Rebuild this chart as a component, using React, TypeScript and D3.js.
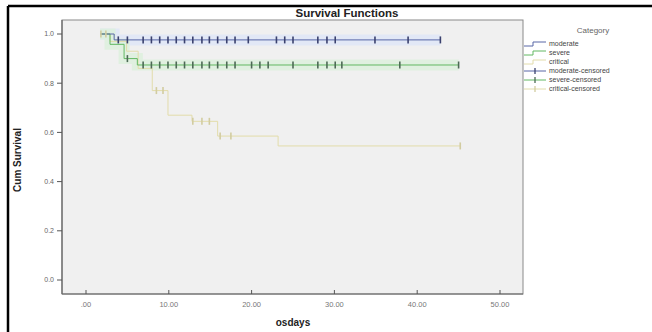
import * as d3 from 'd3';

// step points (time, cumulative survival) and censored times per category
const moderateTimes = [1.7, 3.4];
const moderateSurv = [1.0, 0.976];
const moderateEnd = 42.8;
const moderateCensored = [3.9, 5.0, 6.9, 7.9, 8.9, 9.9, 10.9, 11.9, 12.9, 14.0, 14.9, 15.9, 17.0, 18.0, 19.6, 23.0, 24.0, 25.0, 28.0, 29.1, 30.1, 34.9, 38.9, 42.8];

const severeTimes = [1.7, 2.9, 4.6, 6.2];
const severeSurv = [1.0, 0.958, 0.9, 0.874];
const severeEnd = 45.0;
const severeCensored = [5.0, 6.9, 7.9, 8.9, 9.9, 10.9, 11.9, 12.9, 14.0, 14.9, 15.9, 17.0, 18.0, 20.0, 21.0, 22.0, 25.0, 28.0, 29.1, 30.1, 30.9, 37.9, 45.0];

const criticalTimes = [1.7, 2.9, 4.9, 6.3, 8.0, 9.9, 12.8, 15.9, 23.2];
const criticalSurv = [1.0, 0.97, 0.93, 0.86, 0.77, 0.67, 0.645, 0.585, 0.545];
const criticalEnd = 45.2;
const criticalCensored = [1.8, 2.4, 8.5, 9.3, 12.9, 14.0, 14.9, 16.2, 17.5, 45.2];

const xTicks = [0, 10, 20, 30, 40, 50];
const yTicks = [0, 0.2, 0.4, 0.6, 0.8, 1.0];
const legendLabels = ['moderate', 'severe', 'critical', 'moderate-censored', 'severe-censored', 'critical-censored'];

const groups = [
  { times: moderateTimes, surv: moderateSurv, end: moderateEnd, censored: moderateCensored, color: '#5866a6', mark: '#3a416e', band: '#dfe6f7' },
  { times: severeTimes, surv: severeSurv, end: severeEnd, censored: severeCensored, color: '#62b862', mark: '#4d6a55', band: '#dcf0dc' },
  { times: criticalTimes, surv: criticalSurv, end: criticalEnd, censored: criticalCensored, color: '#e2dcaa', mark: '#d2cca0', band: '#f1efe2' },
];

const font = '"Liberation Sans", Arial, sans-serif';

function survAt(times: number[], surv: number[], t: number) {
  let s = surv[0];
  times.forEach((ti, i) => { if (ti <= t) s = surv[i]; });
  return s;
}

export default function App() {
  const x = d3.scaleLinear().domain([0, 50]).range([86, 500]);
  const y = d3.scaleLinear().domain([0, 1]).range([280, 34]);
  const plot = { left: 62, top: 20, right: 523, bottom: 294 };

  const line = d3.line<[number, number]>()
    .x(d => x(d[0]))
    .y(d => y(d[1]))
    .curve(d3.curveStepAfter);

  const pathFor = (g: typeof groups[0]) => {
    const pts: [number, number][] = g.times.map((t, i) => [t, g.surv[i]]);
    pts.push([g.end, g.surv[g.surv.length - 1]]);
    return line(pts) || '';
  };

  return (
    <svg width={652} height={332} style={{ position: 'absolute', left: 0, top: 0, background: '#fff' }} fontFamily={font}>
      {/* outer frame */}
      <line x1={8} x2={652} y1={6} y2={6} stroke="#000" strokeWidth={2.5} />
      <line x1={8} x2={8} y1={6} y2={332} stroke="#000" strokeWidth={2.5} />

      <text x={347} y={17} textAnchor="middle" fontSize={11.5} fontWeight="bold" fill="#222">Survival Functions</text>

      <rect x={plot.left} y={plot.top} width={plot.right - plot.left} height={plot.bottom - plot.top} fill="#f0f0f0" stroke="#8a8a8a" strokeWidth={1} />

      {/* soft halo around curves */}
      {groups.slice(0, 2).map((g, i) => (
        <path key={'b' + i} d={pathFor(g)} fill="none" stroke={g.band} strokeWidth={11} opacity={0.8} />
      ))}

      {/* curves, critical drawn first */}
      {[2, 1, 0].map(i => (
        <path key={'c' + i} d={pathFor(groups[i])} fill="none" stroke={groups[i].color} strokeWidth={1} />
      ))}

      {/* censor marks */}
      {groups.map((g, gi) => g.censored.map((t, j) => {
        const cx = x(t);
        const cy = y(survAt(g.times, g.surv, t));
        return <line key={gi + '-' + j} x1={cx} x2={cx} y1={cy - 3.5} y2={cy + 3.5} stroke={g.mark} strokeWidth={1.6} />;
      }))}

      {/* y axis */}
      <line x1={plot.left} x2={plot.left} y1={plot.top} y2={plot.bottom} stroke="#666" strokeWidth={1.2} />
      {yTicks.map(t => (
        <g key={t}>
          <line x1={plot.left - 5} x2={plot.left} y1={y(t)} y2={y(t)} stroke="#555" />
          <text x={plot.left - 8} y={y(t)} dy="0.35em" textAnchor="end" fontSize={7} fill="#666">{t.toFixed(1)}</text>
        </g>
      ))}
      <text x={21} y={160} textAnchor="middle" fontSize={10} fontWeight="bold" fill="#222" transform="rotate(-90, 21, 160)">Cum Survival</text>

      {/* x axis */}
      <line x1={plot.left} x2={plot.right} y1={plot.bottom} y2={plot.bottom} stroke="#666" strokeWidth={1.2} />
      {xTicks.map(t => (
        <g key={t}>
          <line x1={x(t)} x2={x(t)} y1={plot.bottom - 4} y2={plot.bottom} stroke="#555" />
          <text x={x(t)} y={307} textAnchor="middle" fontSize={7.5} fill="#777">{t === 0 ? '.00' : t.toFixed(2)}</text>
        </g>
      ))}
      <text x={293} y={326} textAnchor="middle" fontSize={10} fontWeight="bold" fill="#222">osdays</text>

      {/* legend */}
      <text x={593} y={33} textAnchor="middle" fontSize={8} fill="#666">Category</text>
      {legendLabels.map((lab, i) => {
        const g = groups[i % 3];
        const ly = 44 + i * 9;
        return (
          <g key={lab}>
            {i < 3 ? (
              <path d={`M524,${ly + 2}H533V${ly - 2}H546`} fill="none" stroke={g.color} strokeWidth={1} />
            ) : (
              <g>
                <line x1={524} x2={546} y1={ly} y2={ly} stroke={g.color} strokeWidth={1} />
                <line x1={535} x2={535} y1={ly - 3} y2={ly + 3} stroke={g.mark} strokeWidth={1.3} />
              </g>
            )}
            <text x={549} y={ly} dy="0.35em" fontSize={7} fill="#444">{lab}</text>
          </g>
        );
      })}
    </svg>
  );
}
